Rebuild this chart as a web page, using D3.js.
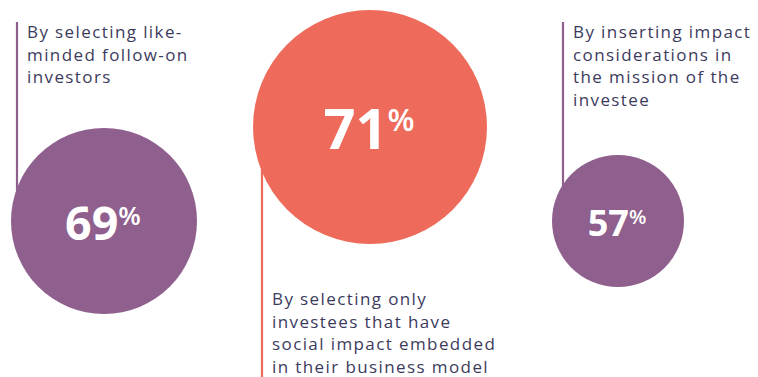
<!DOCTYPE html>
<html>
<head>
<meta charset="utf-8">
<script src="https://cdn.jsdelivr.net/npm/d3@7"></script>
<style>
  html, body { margin: 0; padding: 0; background: #fff; }
  svg { display: block; }
  .label { font-family: "Open Sans", sans-serif; fill: #3c3b5d; letter-spacing: 1.4px; }
  .pct { font-family: "Open Sans", sans-serif; font-weight: 700; fill: #fff; }
</style>
</head>
<body>
<div id="chart"></div>
<script>
// values shown in the bubbles
var values = [69, 71, 57];
// label text, one entry per line
var labels = [
  ["By selecting like-", "minded follow-on", "investors"],
  ["By selecting only", "investees that have", "social impact embedded", "in their business model"],
  ["By inserting impact", "considerations in", "the mission of the", "investee"]
];
var colors = ['#8f5f8d', '#ee6b5b', '#8f5f8d'];

var width = 758, height = 377;

// layout of the three bubbles (positions are layout, not data)
var centerX = [104, 370, 618];
var centerY = [221, 127, 221];
// label placement: side of the bubble where the leader line sits
var lineX = [17, 262, 563];
var labelTop = [38, 305, 38];   // first baseline
var labelBelow = [false, true, false];

// radius from value (bubble sizes as drawn in the original)
var r = d3.scaleLinear().domain([57, 69, 71]).range([66, 93, 117]);
// number font size from radius
var fs = d3.scaleLinear().domain([66, 117]).range([36, 56]);

var svg = d3.select("#chart")
  .append("svg")
    .attr("width", width)
    .attr("height", height);

var data = values.map(function(v, i) {
  return {value: v, lines: labels[i], color: colors[i], i: i};
});

// leader lines
svg.selectAll("line.leader")
  .data(data)
  .enter()
  .append("line")
    .attr("class", "leader")
    .attr("x1", function(d) { return lineX[d.i]; })
    .attr("x2", function(d) { return lineX[d.i]; })
    .attr("y1", function(d) { return labelBelow[d.i] ? centerY[d.i] : 22; })
    .attr("y2", function(d) { return labelBelow[d.i] ? height : centerY[d.i]; })
    .attr("stroke", function(d) { return d.color; })
    .attr("stroke-width", 2.2);

// bubbles
svg.selectAll("circle.bubble")
  .data(data)
  .enter()
  .append("circle")
    .attr("class", "bubble")
    .attr("cx", function(d) { return centerX[d.i]; })
    .attr("cy", function(d) { return centerY[d.i]; })
    .attr("r", function(d) { return r(d.value); })
    .attr("fill", function(d) { return d.color; });

// percentages
var pct = svg.selectAll("text.pct")
  .data(data)
  .enter()
  .append("text")
    .attr("class", "pct")
    .attr("text-anchor", "middle")
    .attr("x", function(d) { return centerX[d.i] - 1; })
    .attr("y", function(d) { var f = fs(r(d.value)); return centerY[d.i] + f * 0.36 + 2; })
    .style("font-size", function(d) { return fs(r(d.value)) + "px"; });
pct.append("tspan")
  .text(function(d) { return d.value; });
pct.append("tspan")
  .attr("dy", function(d) { return -fs(r(d.value)) * 0.32; })
  .style("font-size", function(d) { return fs(r(d.value)) * 0.56 + "px"; })
  .style("font-weight", 600)
  .text("%");

// labels
var lab = svg.selectAll("text.label")
  .data(data)
  .enter()
  .append("text")
    .attr("class", "label")
    .attr("x", function(d) { return lineX[d.i] + 10; })
    .attr("y", function(d) { return labelTop[d.i]; })
    .style("font-size", "17px");
lab.selectAll("tspan")
  .data(function(d) { return d.lines.map(function(l) { return {t: l, x: lineX[d.i] + 10}; }); })
  .enter()
  .append("tspan")
    .attr("x", function(d) { return d.x; })
    .attr("dy", function(d, j) { return j === 0 ? 0 : 22.7; })
    .text(function(d) { return d.t; });
</script>
</body>
</html>
